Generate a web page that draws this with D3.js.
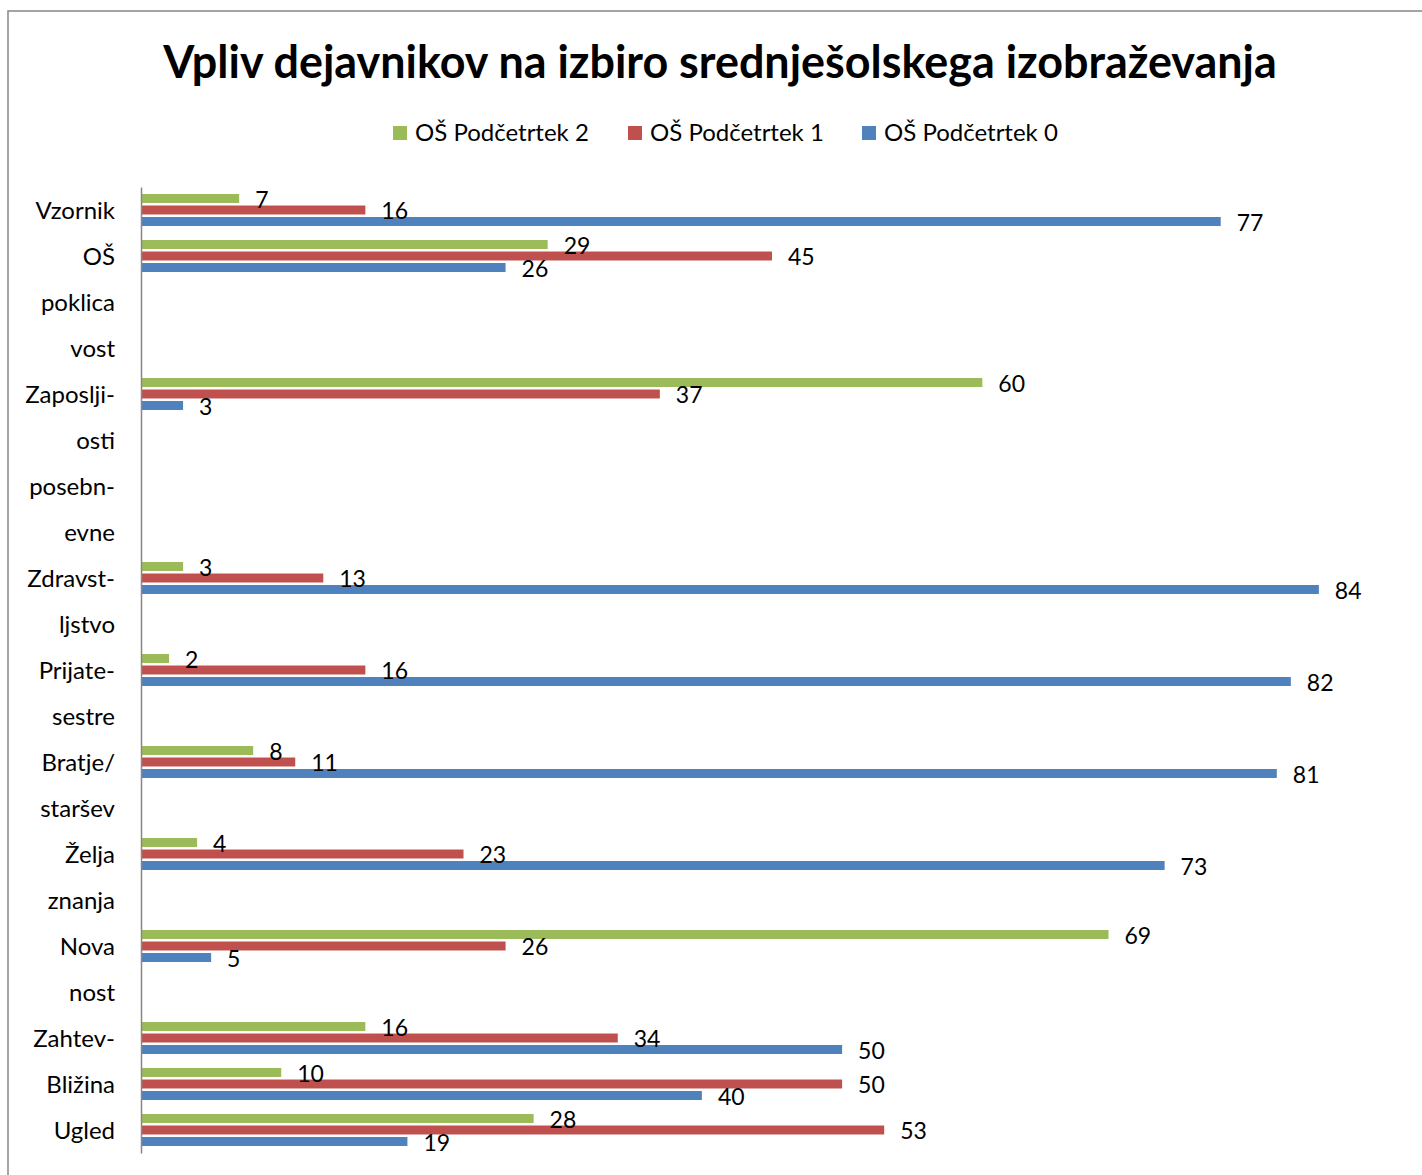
<!DOCTYPE html>
<html>
<head>
<meta charset="utf-8">
<script src="https://cdn.jsdelivr.net/npm/d3@7"></script>
<style>
  body { margin: 0; background: #fff; }
  svg { display: block; font-family: Lato, "Open Sans", sans-serif; }
</style>
</head>
<body>
<main></main>
<script>
// category rows, top to bottom (label lines that carry no bars are empty rows)
const categories = [
  "Vzornik", "OŠ", "poklica", "vost", "Zaposlji-", "osti", "posebn-", "evne",
  "Zdravst-", "ljstvo", "Prijate-", "sestre", "Bratje/", "staršev", "Želja",
  "znanja", "Nova", "nost", "Zahtev-", "Bližina", "Ugled",
]

const seriesNames = ["OŠ Podčetrtek 2", "OŠ Podčetrtek 1", "OŠ Podčetrtek 0"]
const seriesColors = ["#9bbb59", "#c0504d", "#4f81bd"]

const podcetrtek2 = [7, 29, null, null, 60, null, null, null, 3, null, 2, null, 8, null, 4, null, 69, null, 16, 10, 28]
const podcetrtek1 = [16, 45, null, null, 37, null, null, null, 13, null, 16, null, 11, null, 23, null, 26, null, 34, 50, 53]
const podcetrtek0 = [77, 26, null, null, 3, null, null, null, 84, null, 82, null, 81, null, 73, null, 5, null, 50, 40, 19]

const seriesValues = [podcetrtek2, podcetrtek1, podcetrtek0]

const doPlot = () => {
  const w = 1422
  const h = 1175

  const svg = d3.select("main").append("svg").attr("width", w).attr("height", h)

  // chart area border
  svg
    .append("rect")
    .attr("x", 8)
    .attr("y", 11)
    .attr("width", w + 20)
    .attr("height", h + 20)
    .attr("fill", "none")
    .attr("stroke", "#868686")
    .attr("stroke-width", 1.5)

  // title
  const title = svg
    .append("text")
    .text("Vpliv dejavnikov na izbiro srednješolskega izobraževanja")
    .attr("x", 720)
    .attr("y", 78)
    .attr("text-anchor", "middle")
    .attr("font-weight", "bold")
    .attr("font-size", 40)
  const tl = title.node().getComputedTextLength()
  title.attr("font-size", (40 * 1114) / tl)

  const rows = categories.map((c, i) => ({ i, label: c }))

  const yScale = d3
    .scaleBand()
    .domain(rows.map((d) => d.i))
    .range([187, 1153])
    .paddingInner(0.25)
    .paddingOuter(0.125)

  const ySub = d3
    .scaleBand()
    .domain(d3.range(seriesNames.length))
    .range([0, yScale.bandwidth()])
    .paddingInner(0.22)
    .paddingOuter(0.11)

  const xScale = d3.scaleLinear().domain([0, 90]).range([141, 1403])

  const bars = []
  seriesValues.forEach((vals, s) => {
    vals.forEach((v, i) => {
      if (v !== null) bars.push({ s, i, v })
    })
  })

  svg
    .selectAll("rect.bar")
    .data(bars)
    .enter()
    .append("rect")
    .attr("class", "bar")
    .attr("x", xScale(0))
    .attr("y", (d) => yScale(d.i) + ySub(d.s))
    .attr("width", (d) => xScale(d.v) - xScale(0))
    .attr("height", ySub.bandwidth())
    .attr("fill", (d) => seriesColors[d.s])

  svg
    .selectAll("text.val")
    .data(bars)
    .enter()
    .append("text")
    .attr("class", "val")
    .attr("x", (d) => xScale(d.v) + 16)
    .attr("y", (d) => yScale(d.i) + ySub(d.s) + ySub.bandwidth() / 2 + 9)
    .attr("font-size", 23)
    .attr("fill", "#000")
    .text((d) => d.v)

  // axis
  const yAxis = d3
    .axisLeft(yScale)
    .tickSize(0)
    .tickPadding(26)
    .tickFormat((i) => categories[i])

  const ax = svg.append("g").attr("transform", "translate(141,0)").call(yAxis)
  ax.select(".domain").attr("stroke", "#868686").attr("stroke-width", 1.5)
  ax.selectAll("text")
    .attr("font-size", 24)
    .attr("font-family", "Lato, sans-serif")
    .attr("fill", "#000")
    .attr("dy", null)
    .attr("y", 8.5)

  // legend
  const legendX = [393, 628, 862]
  const legend = svg
    .selectAll("g.legend")
    .data(seriesNames)
    .enter()
    .append("g")
    .attr("class", "legend")
    .attr("transform", (d, i) => `translate(${legendX[i]},126)`)

  legend
    .append("rect")
    .attr("width", 14)
    .attr("height", 14)
    .attr("fill", (d, i) => seriesColors[i])

  legend
    .append("text")
    .attr("x", 22)
    .attr("y", 15)
    .attr("font-size", 24)
    .text((d) => d)
}

doPlot()
</script>
</body>
</html>
